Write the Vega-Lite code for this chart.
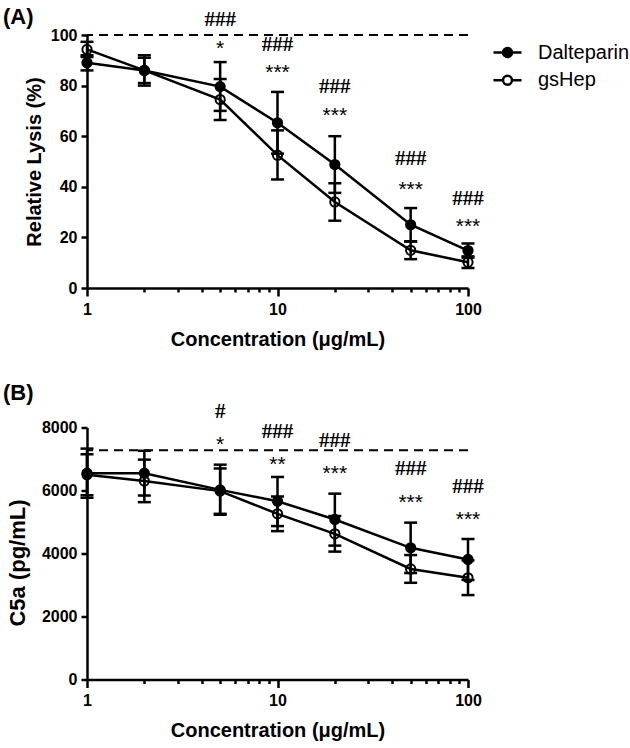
{
  "$schema": "https://vega.github.io/schema/vega-lite/v6.json",
  "background": "white",
  "padding": {"left": 3, "top": 6, "right": 5, "bottom": 3},
  "bounds": "flush",
  "spacing": 139.5,
  "config": {
    "view": {"stroke": null},
    "font": "Liberation Sans",
    "axis": {
      "grid": false,
      "domainColor": "black", "domainWidth": 2.5,
      "tickColor": "black", "tickWidth": 2.5,
      "labelFont": "Liberation Sans", "labelFontWeight": "bold", "labelFontSize": 16, "labelColor": "black",
      "titleFont": "Liberation Sans", "titleFontWeight": "bold", "titleFontSize": 20, "titleColor": "black",
      "labelFlush": false, "labelOverlap": false
    },
    "legend": {
      "orient": "none", "legendX": 405, "legendY": 2, "title": null, "padding": 0,
      "symbolType": "M-1,0H-0.32M0.32,0H1M-0.32,0A0.32,0.32,0,1,0,0.32,0A0.32,0.32,0,1,0,-0.32,0Z",
      "symbolSize": 784, "symbolStrokeColor": "black", "symbolStrokeWidth": 2.5, "symbolOpacity": 1,
      "labelFont": "Liberation Sans", "labelFontSize": 20, "labelColor": "black", "labelOffset": 15, "rowPadding": 1.7
    }
  },
  "datasets": {
    "means": [
      {"panel": "A", "conc": 1, "group": "Dalteparin", "mean": 89, "lo": 86, "hi": 92},
      {"panel": "A", "conc": 1, "group": "gsHep", "mean": 94.3, "lo": 91.3, "hi": 97.3},
      {"panel": "A", "conc": 2, "group": "Dalteparin", "mean": 86, "lo": 80, "hi": 92},
      {"panel": "A", "conc": 2, "group": "gsHep", "mean": 86, "lo": 81, "hi": 91},
      {"panel": "A", "conc": 5, "group": "Dalteparin", "mean": 79.6, "lo": 70, "hi": 89.3},
      {"panel": "A", "conc": 5, "group": "gsHep", "mean": 74.5, "lo": 66.4, "hi": 82.6},
      {"panel": "A", "conc": 10, "group": "Dalteparin", "mean": 65.3, "lo": 53.1, "hi": 77.5},
      {"panel": "A", "conc": 10, "group": "gsHep", "mean": 52.5, "lo": 42.9, "hi": 62.3},
      {"panel": "A", "conc": 20, "group": "Dalteparin", "mean": 48.8, "lo": 37.6, "hi": 60},
      {"panel": "A", "conc": 20, "group": "gsHep", "mean": 34, "lo": 26.6, "hi": 41.4},
      {"panel": "A", "conc": 50, "group": "Dalteparin", "mean": 25, "lo": 18.4, "hi": 31.6},
      {"panel": "A", "conc": 50, "group": "gsHep", "mean": 14.9, "lo": 11.4, "hi": 18.4},
      {"panel": "A", "conc": 100, "group": "Dalteparin", "mean": 14.8, "lo": 12, "hi": 17.6},
      {"panel": "A", "conc": 100, "group": "gsHep", "mean": 10.2, "lo": 7.9, "hi": 12.5},
      {"panel": "B", "conc": 1, "group": "Dalteparin", "mean": 6550, "lo": 5770, "hi": 7330},
      {"panel": "B", "conc": 1, "group": "gsHep", "mean": 6500, "lo": 5850, "hi": 7150},
      {"panel": "B", "conc": 2, "group": "Dalteparin", "mean": 6550, "lo": 5840, "hi": 7260},
      {"panel": "B", "conc": 2, "group": "gsHep", "mean": 6300, "lo": 5630, "hi": 6980},
      {"panel": "B", "conc": 5, "group": "Dalteparin", "mean": 6020, "lo": 5230, "hi": 6820},
      {"panel": "B", "conc": 5, "group": "gsHep", "mean": 5980, "lo": 5260, "hi": 6700},
      {"panel": "B", "conc": 10, "group": "Dalteparin", "mean": 5660, "lo": 4870, "hi": 6430},
      {"panel": "B", "conc": 10, "group": "gsHep", "mean": 5260, "lo": 4710, "hi": 5810},
      {"panel": "B", "conc": 20, "group": "Dalteparin", "mean": 5080, "lo": 4250, "hi": 5900},
      {"panel": "B", "conc": 20, "group": "gsHep", "mean": 4625, "lo": 4060, "hi": 5190},
      {"panel": "B", "conc": 50, "group": "Dalteparin", "mean": 4180, "lo": 3380, "hi": 4980},
      {"panel": "B", "conc": 50, "group": "gsHep", "mean": 3510, "lo": 3070, "hi": 3950},
      {"panel": "B", "conc": 100, "group": "Dalteparin", "mean": 3810, "lo": 3160, "hi": 4460},
      {"panel": "B", "conc": 100, "group": "gsHep", "mean": 3230, "lo": 2680, "hi": 3780}
    ],
    "notes": [
      {"panel": "A", "conc": 5, "kind": "hash", "y": 105.8, "label": "###"},
      {"panel": "A", "conc": 5, "kind": "star", "y": 96.3, "label": "*"},
      {"panel": "A", "conc": 10, "kind": "hash", "y": 96.1, "label": "###"},
      {"panel": "A", "conc": 10, "kind": "star", "y": 87.1, "label": "***"},
      {"panel": "A", "conc": 20, "kind": "hash", "y": 79.6, "label": "###"},
      {"panel": "A", "conc": 20, "kind": "star", "y": 70, "label": "***"},
      {"panel": "A", "conc": 50, "kind": "hash", "y": 50.8, "label": "###"},
      {"panel": "A", "conc": 50, "kind": "star", "y": 40.9, "label": "***"},
      {"panel": "A", "conc": 100, "kind": "hash", "y": 35.2, "label": "###"},
      {"panel": "A", "conc": 100, "kind": "star", "y": 26, "label": "***"},
      {"panel": "B", "conc": 5, "kind": "hash", "y": 8497, "label": "#"},
      {"panel": "B", "conc": 5, "kind": "star", "y": 7619, "label": "*"},
      {"panel": "B", "conc": 10, "kind": "hash", "y": 7863, "label": "###"},
      {"panel": "B", "conc": 10, "kind": "star", "y": 6984, "label": "**"},
      {"panel": "B", "conc": 20, "kind": "hash", "y": 7587, "label": "###"},
      {"panel": "B", "conc": 20, "kind": "star", "y": 6690, "label": "***"},
      {"panel": "B", "conc": 50, "kind": "hash", "y": 6667, "label": "###"},
      {"panel": "B", "conc": 50, "kind": "star", "y": 5768, "label": "***"},
      {"panel": "B", "conc": 100, "kind": "hash", "y": 6117, "label": "###"},
      {"panel": "B", "conc": 100, "kind": "star", "y": 5238, "label": "***"}
    ],
    "refA": [{"y": 100}],
    "refB": [{"y": 7280}]
  },
  "vconcat": [
    {
      "title": {"text": "(A)", "anchor": "start", "frame": "group", "dx": -84, "offset": -20, "fontSize": 22, "fontWeight": "bold", "font": "Liberation Sans", "color": "black"},
      "width": 381, "height": 253,
      "encoding": {
        "x": {"field": "conc", "type": "quantitative",
          "scale": {"type": "log", "domain": [1, 100], "nice": false},
          "axis": {"title": "Concentration (μg/mL)", "values": [1,2,3,4,5,6,7,8,9,10,20,30,40,50,60,70,80,90,100], "format": "d",
            "labelExpr": "(datum.value == 1 || datum.value == 10 || datum.value == 100) ? datum.label : ''",
            "tickSize": {"condition": {"test": "datum.value == 1 || datum.value == 10 || datum.value == 100", "value": 8}, "value": 4},
            "labelPadding": 5, "titlePadding": 12}}
      },
      "layer": [
        {"data": {"name": "refA"}, "mark": {"type": "rule", "strokeDash": [9, 6], "strokeWidth": 2, "color": "black"},
          "encoding": {"x": null, "y": {"field": "y", "type": "quantitative"}}},
        {"data": {"name": "means"}, "transform": [{"filter": "datum.panel == 'A'"}],
          "mark": {"type": "rule", "strokeWidth": 2.5, "color": "black"},
          "encoding": {"y": {"field": "lo", "type": "quantitative"}, "y2": {"field": "hi"}}},
        {"data": {"name": "means"}, "transform": [{"filter": "datum.panel == 'A'"}, {"fold": ["lo", "hi"], "as": ["end", "val"]}],
          "mark": {"type": "tick", "orient": "horizontal", "size": 13, "thickness": 2.5, "color": "black", "opacity": 1},
          "encoding": {"y": {"field": "val", "type": "quantitative"}}},
        {"data": {"name": "means"}, "transform": [{"filter": "datum.panel == 'A'"}],
          "mark": {"type": "line", "strokeWidth": 2.5, "color": "black"},
          "encoding": {"y": {"field": "mean", "type": "quantitative"}, "detail": {"field": "group"}}},
        {"data": {"name": "means"}, "transform": [{"filter": "datum.panel == 'A'"}],
          "mark": {"type": "point", "shape": "circle", "filled": true, "size": 85, "stroke": "black", "strokeWidth": 2, "opacity": 1},
          "encoding": {
            "y": {"field": "mean", "type": "quantitative", "scale": {"domain": [0, 100], "nice": false},
              "axis": {"title": "Relative Lysis (%)", "values": [0, 20, 40, 60, 80, 100], "tickSize": 6, "labelPadding": 4, "titlePadding": 6}},
            "fill": {"field": "group", "type": "nominal", "scale": {"domain": ["Dalteparin", "gsHep"], "range": ["black", "transparent"]}}
          }},
        {"data": {"name": "notes"}, "transform": [{"filter": "datum.panel == 'A' && datum.kind == 'hash'"}],
          "mark": {"type": "text", "font": "Liberation Serif", "fontWeight": "bold", "fontSize": 21, "color": "black", "baseline": "middle", "align": "center"},
          "encoding": {"y": {"field": "y", "type": "quantitative"}, "text": {"field": "label"}}},
        {"data": {"name": "notes"}, "transform": [{"filter": "datum.panel == 'A' && datum.kind == 'star'"}],
          "mark": {"type": "text", "font": "Liberation Sans", "fontSize": 21, "color": "black", "baseline": "middle", "align": "center", "dy": 5},
          "encoding": {"y": {"field": "y", "type": "quantitative"}, "text": {"field": "label"}}}
      ]
    },
    {
      "title": {"text": "(B)", "anchor": "start", "frame": "group", "dx": -84, "offset": -4, "fontSize": 22, "fontWeight": "bold", "font": "Liberation Sans", "color": "black"},
      "width": 381, "height": 252,
      "encoding": {
        "x": {"field": "conc", "type": "quantitative",
          "scale": {"type": "log", "domain": [1, 100], "nice": false},
          "axis": {"title": "Concentration (μg/mL)", "values": [1,2,3,4,5,6,7,8,9,10,20,30,40,50,60,70,80,90,100], "format": "d",
            "labelExpr": "(datum.value == 1 || datum.value == 10 || datum.value == 100) ? datum.label : ''",
            "tickSize": {"condition": {"test": "datum.value == 1 || datum.value == 10 || datum.value == 100", "value": 8}, "value": 4},
            "labelPadding": 5, "titlePadding": 12}}
      },
      "layer": [
        {"data": {"name": "refB"}, "mark": {"type": "rule", "strokeDash": [9, 6], "strokeWidth": 2, "color": "black"},
          "encoding": {"x": null, "y": {"field": "y", "type": "quantitative"}}},
        {"data": {"name": "means"}, "transform": [{"filter": "datum.panel == 'B'"}],
          "mark": {"type": "rule", "strokeWidth": 2.5, "color": "black"},
          "encoding": {"y": {"field": "lo", "type": "quantitative"}, "y2": {"field": "hi"}}},
        {"data": {"name": "means"}, "transform": [{"filter": "datum.panel == 'B'"}, {"fold": ["lo", "hi"], "as": ["end", "val"]}],
          "mark": {"type": "tick", "orient": "horizontal", "size": 13, "thickness": 2.5, "color": "black", "opacity": 1},
          "encoding": {"y": {"field": "val", "type": "quantitative"}}},
        {"data": {"name": "means"}, "transform": [{"filter": "datum.panel == 'B'"}],
          "mark": {"type": "line", "strokeWidth": 2.5, "color": "black"},
          "encoding": {"y": {"field": "mean", "type": "quantitative"}, "detail": {"field": "group"}}},
        {"data": {"name": "means"}, "transform": [{"filter": "datum.panel == 'B'"}],
          "mark": {"type": "point", "shape": "circle", "filled": true, "size": 85, "stroke": "black", "strokeWidth": 2, "opacity": 1},
          "encoding": {
            "y": {"field": "mean", "type": "quantitative", "scale": {"domain": [0, 8000], "nice": false},
              "axis": {"title": "C5a (pg/mL)", "titleFontSize": 22, "titleY": 135, "values": [0, 2000, 4000, 6000, 8000], "format": "d", "tickSize": 6, "labelPadding": 4, "titlePadding": 12}},
            "fill": {"field": "group", "type": "nominal", "scale": {"domain": ["Dalteparin", "gsHep"], "range": ["black", "transparent"]}}
          }},
        {"data": {"name": "notes"}, "transform": [{"filter": "datum.panel == 'B' && datum.kind == 'hash'"}],
          "mark": {"type": "text", "font": "Liberation Serif", "fontWeight": "bold", "fontSize": 21, "color": "black", "baseline": "middle", "align": "center"},
          "encoding": {"y": {"field": "y", "type": "quantitative"}, "text": {"field": "label"}}},
        {"data": {"name": "notes"}, "transform": [{"filter": "datum.panel == 'B' && datum.kind == 'star'"}],
          "mark": {"type": "text", "font": "Liberation Sans", "fontSize": 21, "color": "black", "baseline": "middle", "align": "center", "dy": 5},
          "encoding": {"y": {"field": "y", "type": "quantitative"}, "text": {"field": "label"}}}
      ]
    }
  ]
}
